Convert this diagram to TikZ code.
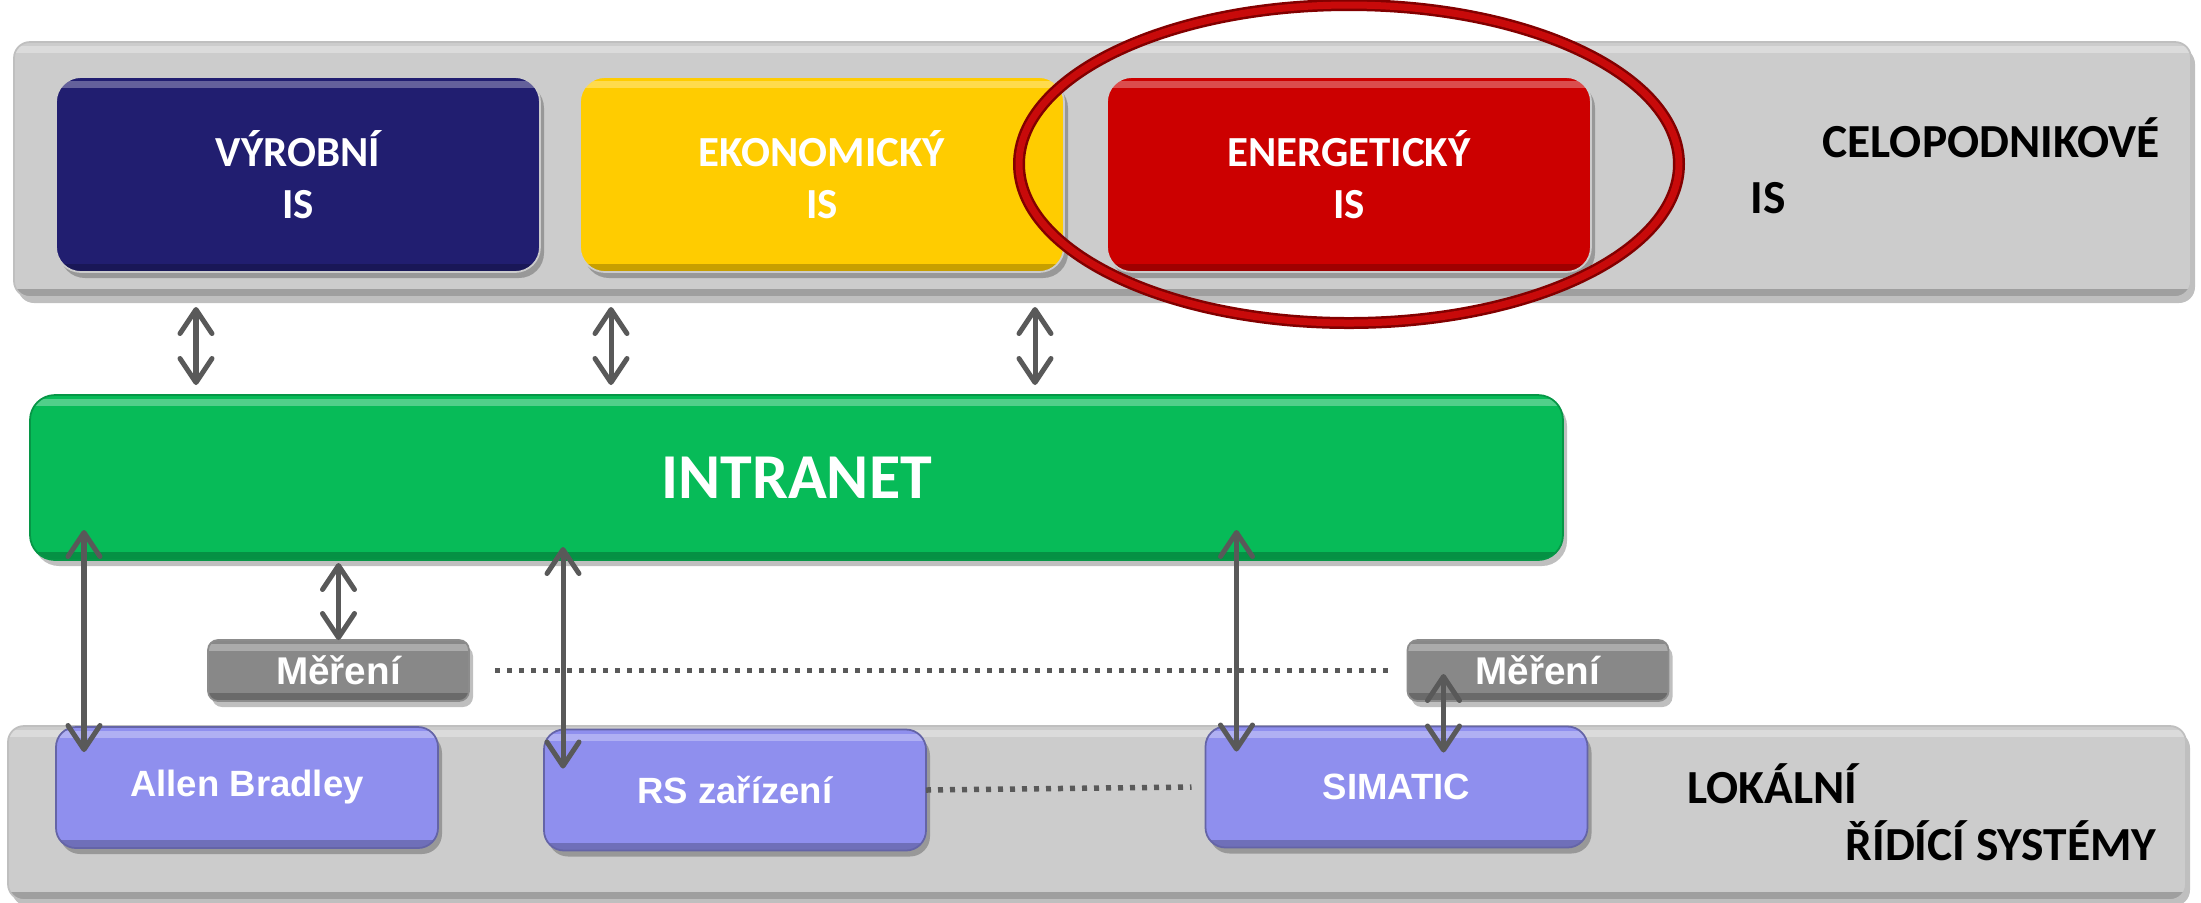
\documentclass[tikz,border=0pt]{standalone}
\usepackage{fontspec}
\setmainfont{Carlito}
\newfontfamily\arialfont{Liberation Sans}
\usetikzlibrary{arrows.meta, positioning, shadows, calc}

\definecolor{panelgray}{RGB}{204,204,204}
\definecolor{vyrcol}{RGB}{33,30,112}
\definecolor{ekoncol}{RGB}{255,204,0}
\definecolor{energcol}{RGB}{204,0,0}
\definecolor{netcol}{RGB}{7,187,88}
\definecolor{mercol}{RGB}{136,136,136}
\definecolor{plccol}{RGB}{143,143,238}
\definecolor{arrowgray}{RGB}{89,89,89}
\definecolor{ringcol}{RGB}{200,10,10}
\definecolor{ringdark}{RGB}{130,0,0}

\tikzset{
  bevel/.style={path picture={
    \fill[white, opacity=0.3, sharp corners] ([yshift=-0.04cm]path picture bounding box.north west) rectangle ([yshift=-0.11cm]path picture bounding box.north east);
    \fill[black, opacity=0.22, sharp corners] ([yshift=0.08cm]path picture bounding box.south west) rectangle (path picture bounding box.south east);
  }},
  boxshadow/.style={drop shadow={shadow xshift=0.04cm, shadow yshift=-0.06cm, opacity=0.25, fill=black}},
  panel/.style={fill=panelgray, draw=black!25, line width=0.5pt, rounded corners=0.16cm, bevel, boxshadow},
  isbox/.style={rounded corners=0.25cm, minimum width=4.84cm, minimum height=1.95cm, text=white, align=center,
    font=\bfseries\fontsize{12.2}{14.8}\selectfont, draw=black!20, line width=0.5pt, bevel, boxshadow},
  netbox/.style={fill=netcol, rounded corners=0.25cm, minimum width=15.33cm, minimum height=1.65cm, text=white,
    font=\bfseries\fontsize{18.2}{21}\selectfont, draw=netcol!80!black, line width=0.5pt, bevel, boxshadow},
  merbox/.style={fill=mercol, rounded corners=0.1cm, minimum width=2.61cm, minimum height=0.61cm, text=white,
    font=\arialfont\bfseries\fontsize{11}{13}\selectfont, draw=black!45, line width=0.5pt, bevel, boxshadow},
  plcbox/.style={fill=plccol, rounded corners=0.2cm, minimum width=3.82cm, minimum height=1.21cm, text=white,
    font=\arialfont\bfseries\fontsize{10.4}{12}\selectfont, draw=plccol!70!black, line width=0.5pt, bevel, boxshadow},
  sidelabel/.style={anchor=base, font=\bfseries\fontsize{13.5}{16}\selectfont},
  biarrow/.style={draw=arrowgray, line width=0.05cm, <->, >={Straight Barb[length=2.4mm, width=3.2mm, round]}},
  dotline/.style={draw=arrowgray, line width=0.055cm, dash pattern=on 0.05cm off 0.07cm},
  ring/.style={draw=ringdark, line width=0.025cm, double=ringcol, double distance=0.07cm}
}

\begin{document}
\begin{tikzpicture}[every node/.style={inner sep=0pt, outer sep=0pt}]
\useasboundingbox (0,0) rectangle (22.01,-9.02);

% panels
\node (celo) [panel, minimum width=21.77cm, minimum height=2.55cm] at (11.025,-1.695) {};
\node (lokal) [panel, minimum width=21.78cm, minimum height=1.74cm] at (10.97,-8.13) {};

% information systems
\node (vyr) [isbox, fill=vyrcol] at (2.98,-1.745) {VÝROBNÍ\\IS};
\node (ekon) [isbox, fill=ekoncol, right=0.40cm of vyr] {EKONOMICKÝ\\IS};
\node (energ) [isbox, fill=energcol, right=0.43cm of ekon] {ENERGETICKÝ\\IS};

\node (celotxt) [sidelabel] at (19.91,-1.57) {CELOPODNIKOVÉ};
\node (celois) [sidelabel] at (17.68,-2.13) {IS};

% network and measurement
\node (intranet) [netbox] at (7.965,-4.775) {INTRANET};
\node (mer1) [merbox] at (3.385,-6.705) {Měření};
\node (mer2) [merbox] at (15.38,-6.705) {Měření};

% local control systems
\node (allen) [plcbox] at (2.47,-7.875) {Allen Bradley};
\node (rs) [plcbox] at (7.35,-7.90) {RS zařízení};
\node (simatic) [plcbox] at (13.965,-7.87) {SIMATIC};

\node (loktxt) [sidelabel] at (17.72,-8.03) {LOKÁLNÍ};
\node (ridtxt) [sidelabel] at (20.01,-8.60) {ŘÍDÍCÍ SYSTÉMY};

% highlight
\draw[ring] ([yshift=0.105cm]energ.center) ellipse [x radius=3.30cm, y radius=1.59cm];

% links to intranet
\draw[biarrow] ($(vyr.west |- celo.south)+(1.40,-0.10)$) -- ($(vyr.west |- intranet.north)+(1.40,0.10)$);
\draw[biarrow] ($(ekon.west |- celo.south)+(0.31,-0.10)$) -- ($(ekon.west |- intranet.north)+(0.31,0.10)$);
\draw[biarrow] ($(energ.west |- celo.south)+(-0.72,-0.10)$) -- ($(energ.west |- intranet.north)+(-0.72,0.10)$);

\draw[biarrow] ($(allen.west |- intranet.south)+(0.28,0.30)$) -- ($(allen.north west)+(0.28,-0.25)$);
\draw[biarrow] ($(mer1.north |- intranet.south)+(0,-0.03)$) -- (mer1.north);
\draw[biarrow] ($(rs.west |- intranet.south)+(0.19,0.13)$) -- ($(rs.north west)+(0.19,-0.39)$);
\draw[biarrow] ($(simatic.west |- intranet.south)+(0.31,0.30)$) -- ($(simatic.north west)+(0.31,-0.25)$);
\draw[biarrow] ($(mer2.north west)+(0.36,-0.34)$) -- ($(mer2.west |- simatic.north)+(0.36,-0.26)$);

% dotted links
\draw[dotline] ($(mer1.east)+(0.26,0)$) -- ($(mer2.west)+(-0.13,0)$);
\draw[dotline] (rs.east) -- ($(simatic.west)+(-0.14,0)$);
\end{tikzpicture}
\end{document}
